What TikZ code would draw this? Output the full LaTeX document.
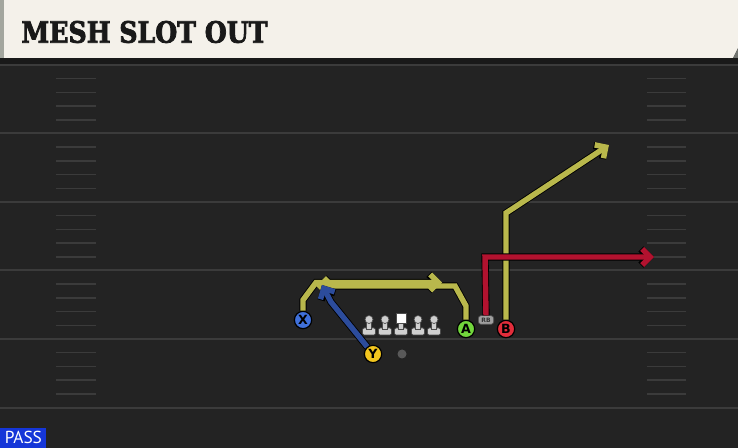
\documentclass[tikz,border=0pt]{standalone}
\usepackage{fontspec}
\newfontfamily\titlefont[FakeBold=2.6,FakeStretch=0.86]{DejaVu Serif}
\newfontfamily\playerfont{DejaVu Sans}
\newfontfamily\passfont{PT Sans}
\usetikzlibrary{arrows.meta}

\definecolor{fieldbg}{HTML}{232323}
\definecolor{fieldline}{HTML}{3B3B3B}
\definecolor{headbg}{HTML}{F4F1EA}
\definecolor{headedge}{HTML}{A3A69E}
\definecolor{routeyellow}{HTML}{B9B84C}
\definecolor{routeblue}{HTML}{2C4C9C}
\definecolor{routered}{HTML}{B2122F}
\definecolor{xblue}{HTML}{3F70DA}
\definecolor{yyellow}{HTML}{F3C61E}
\definecolor{agreen}{HTML}{72D63C}
\definecolor{bred}{HTML}{E22D3B}
\definecolor{passblue}{HTML}{1536D8}
\definecolor{linegray}{HTML}{CFCFCF}

\tikzset{every picture/.style={line width=0.55pt}}
\tikzset{
  routeline/.style={line width=4.1pt, line join=miter, -{Straight Barb[length=6pt,width=12pt]}},
  routeedge/.style={routeline, draw=black, line width=5.4pt},
  route/.style={routeline, preaction={draw=black, line width=5.4pt}},
  player/.style={circle, draw=black, line width=0.9pt, minimum size=13pt, inner sep=0pt,
    font=\playerfont\bfseries\fontsize{9.5}{9.5}\selectfont},
  lineman/.style={fill=linegray, draw=black!70, line width=0.5pt},
  hash/.style={draw=fieldline, line width=1.1pt},
}

\begin{document}
\begin{tikzpicture}[x=0.75pt,y=0.75pt,yscale=-1,xscale=1]
  \useasboundingbox (0,0) rectangle (738,448);
  % field
  \fill[fieldbg] (0,0) rectangle (738,448);
  \fill[black!90] (0,58) rectangle (738,65);
  \foreach \ly in {65,133.5,202,270.5,339,407.5}
    \draw[fieldline, line width=1.5pt] (0,\ly) -- (738,\ly);
  \foreach \ly in {65,133.5,202,270.5,339} {
    \foreach \k in {1,2,3,4} {
      \draw[hash] (56,\ly+\k*13.7) -- (96,\ly+\k*13.7);
      \draw[hash] (647,\ly+\k*13.7) -- (686,\ly+\k*13.7);
    }
  }
  % header
  \fill[headbg] (4,0) -- (738,0) -- (738,48) -- (733,58) -- (4,58) -- cycle;
  \fill[headedge] (0,0) rectangle (4,58);
  \fill[headedge!70!black] (738,48) -- (738,58) -- (733,58) -- cycle;
  \node[anchor=west, inner sep=0pt, text=black!90] (title) at (21,32)
    {\titlefont\bfseries\fontsize{22}{22}\selectfont MESH SLOT OUT};
  % Text Node
  \node[anchor=south west, fill=passblue, text=white, inner sep=0pt, minimum width=34.5pt,
    minimum height=15pt, font=\passfont\fontsize{13}{13}\selectfont] (pass) at (0,448) {PASS};
  % line
  \foreach \lx in {369,385,418,434} {
    \filldraw[lineman, rounded corners=1] (\lx-6.5,328) rectangle (\lx+6.5,335);
    \filldraw[lineman] (\lx-2.5,321) rectangle (\lx+2.5,329);
    \filldraw[lineman] (\lx,319.5) circle (4);
  }
  \filldraw[lineman, rounded corners=1] (394.5,328) rectangle (407.5,335);
  \filldraw[lineman] (398.5,321) rectangle (403.5,329);
  \filldraw[fill=white, draw=black!70, line width=0.5pt] (396,313) rectangle (406,323);
  \fill[gray!70!black] (402,354) circle (4.5);
  % players
  \node[player, fill=xblue] (X) at (303,320) {X};
  \node[player, fill=yyellow] (Y) at (373,354) {Y};
  \node[player, fill=agreen] (A) at (466,329) {A};
  \node[player, fill=bred] (B) at (506,329) {B};
  \node[fill=gray!75, draw=black!70, line width=0.5pt, rounded corners=2pt, minimum width=11.5pt,
    minimum height=6.5pt, inner sep=0pt, font=\playerfont\bfseries\fontsize{4.5}{4.5}\selectfont,
    text=black!80] (RB) at (486,320) {RB};
  % routes (mesh: edges first, then colour)
  \draw[routeedge] (A.north) -- (466,306) -- (455,286) -- (316,286);
  \draw[routeedge] (X.north) -- (303,300) -- (316,282.5) -- (442,282.5);
  \draw[routeline, routeyellow] (A.north) -- (466,306) -- (455,286) -- (316,286);
  \draw[routeline, routeyellow] (X.north) -- (303,300) -- (316,282.5) -- (442,282.5);
  \draw[route, routeblue] (Y) -- (331,302) -- (322,285);
  \draw[route, routeyellow] (B.north) -- (506,213) -- (609,145);
  \draw[route, routered] (RB.north) -- (485,257) -- (654,257);
\end{tikzpicture}
\end{document}
